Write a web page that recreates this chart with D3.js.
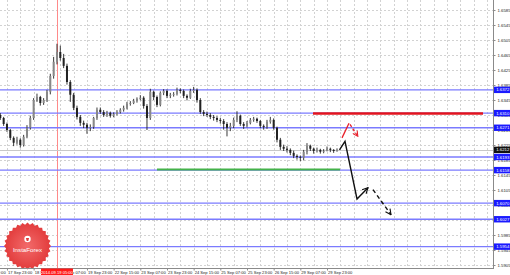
<!DOCTYPE html>
<html>
<head>
<meta charset="utf-8">
<script src="https://cdn.jsdelivr.net/npm/d3@7"></script>
<style>
  body { margin: 0; background: #fff; }
  svg { display: block; }
</style>
</head>
<body>
<svg id="chart" width="510" height="275"></svg>
<script>
// GBPUSD H2 bars, 17 Sep 2014 -> 30 Sep 2014 (hour index counted in trading hours from 17 Sep 07:00)
const firstBarHour = 12;
const barHours = 2;
const firstOpen = 1.6305;
const closes = [
  1.6297,1.6281,1.6265,1.6244,1.6231,1.6239,1.6225,1.6247,1.6271,1.6297,
  1.6345,1.6353,1.6337,1.6345,1.6367,1.6409,1.6447,1.6473,1.6457,1.6436,
  1.6393,1.6359,1.6324,1.6300,1.6284,1.6279,1.6271,1.6273,1.6297,1.6319,
  1.6313,1.6305,1.6311,1.6303,1.6308,1.6313,1.6319,1.6324,1.6335,1.6337,
  1.6343,1.6348,1.6351,1.6329,1.6297,1.6367,1.6353,1.6332,1.6364,1.6369,
  1.6356,1.6359,1.6361,1.6372,1.6369,1.6356,1.6351,1.6369,1.6372,1.6345,
  1.6313,1.6308,1.6305,1.6300,1.6297,1.6292,1.6289,1.6281,1.6271,1.6276,
  1.6292,1.6303,1.6281,1.6276,1.6284,1.6292,1.6295,1.6289,1.6276,1.6273,
  1.6287,1.6292,1.6271,1.6239,1.6220,1.6215,1.6212,1.6204,1.6196,1.6193,
  1.6191,1.6207,1.6223,1.6215,1.6209,1.6212,1.6207,1.6209,1.6215,1.6212,1.6209,1.6212
];
const highs = [
  1.6310,1.6300,1.6285,1.6268,1.6248,1.6247,1.6243,1.6252,1.6278,1.6303,
  1.6350,1.6362,1.6356,1.6350,1.6372,1.6415,1.6460,1.6495,1.6490,1.6468,
  1.6442,1.6398,1.6364,1.6330,1.6305,1.6290,1.6284,1.6280,1.6300,1.6325,
  1.6325,1.6318,1.6316,1.6314,1.6312,1.6318,1.6323,1.6330,1.6340,1.6342,
  1.6348,1.6352,1.6358,1.6355,1.6334,1.6375,1.6370,1.6357,1.6368,1.6374,
  1.6373,1.6364,1.6366,1.6378,1.6376,1.6373,1.6360,1.6375,1.6380,1.6376,
  1.6350,1.6318,1.6314,1.6310,1.6305,1.6302,1.6297,1.6294,1.6286,1.6284,
  1.6298,1.6315,1.6306,1.6286,1.6289,1.6297,1.6300,1.6298,1.6292,1.6280,
  1.6292,1.6300,1.6296,1.6274,1.6244,1.6226,1.6222,1.6216,1.6210,1.6200,
  1.6197,1.6212,1.6230,1.6226,1.6218,1.6218,1.6215,1.6214,1.6221,1.6218,1.6214,1.6216
];
const lows = [
  1.6292,1.6276,1.6260,1.6238,1.6222,1.6226,1.6218,1.6221,1.6243,1.6266,
  1.6292,1.6340,1.6330,1.6332,1.6340,1.6360,1.6402,1.6440,1.6450,1.6430,
  1.6386,1.6340,1.6318,1.6293,1.6276,1.6270,1.6255,1.6262,1.6268,1.6292,
  1.6308,1.6300,1.6300,1.6298,1.6299,1.6304,1.6309,1.6314,1.6320,1.6330,
  1.6334,1.6338,1.6344,1.6322,1.6265,1.6292,1.6345,1.6326,1.6328,1.6358,
  1.6350,1.6350,1.6354,1.6357,1.6363,1.6350,1.6344,1.6348,1.6364,1.6338,
  1.6308,1.6302,1.6300,1.6294,1.6290,1.6286,1.6282,1.6266,1.6248,1.6262,
  1.6270,1.6286,1.6276,1.6268,1.6272,1.6280,1.6287,1.6284,1.6270,1.6266,
  1.6268,1.6282,1.6266,1.6232,1.6212,1.6209,1.6205,1.6198,1.6190,1.6186,
  1.6182,1.6184,1.6200,1.6209,1.6202,1.6205,1.6202,1.6203,1.6208,1.6206,1.6204,1.6207
];

const priceTicks = [1.5905,1.5945,1.5985,1.6025,1.6065,1.6105,1.6145,1.6185,1.6225,
                    1.6265,1.6305,1.6345,1.6385,1.6425,1.6465,1.6505,1.6545,1.6585];
const dateLabels = ["17 Sep 07:00","17 Sep 23:00","18 Sep 15:00","19 Sep 07:00","19 Sep 23:00",
                    "22 Sep 15:00","23 Sep 07:00","23 Sep 23:00","24 Sep 15:00","25 Sep 07:00",
                    "25 Sep 23:00","26 Sep 15:00","29 Sep 07:00","29 Sep 23:00"];
const labelStepHours = 16;

// horizontal levels
const blueLevels = [1.6372, 1.6310, 1.6271, 1.6193, 1.6158, 1.6070, 1.6027, 1.5954];
const redLevel = {price: 1.6309, from: 199.6, to: 301.6};
const greenLevel = {price: 1.6160, from: 106, to: 215.8};
const markerHour = 46;
const markerLabel = "2014.09.19 05:00";

// forecast arrows [hour, price]
const redUp = [[217, 1.6244], [221.2, 1.6283]];
const redDown = [[221.8, 1.6280], [226.5, 1.6248]];
const blackMain = [[215.5, 1.6212], [218.8, 1.6235], [226, 1.6081], [232.6, 1.6111]];
const blackDashed = [[235.6, 1.6106], [246.4, 1.6039]];

const W = 510, H = 275;
const plotRight = 493, plotBottom = 268;

const x = d3.scaleLinear().domain([0, 208]).range([-19.7, 327]);
const y = d3.scaleLinear().domain([1.5905, 1.6585]).range([265, 10]);

const svg = d3.select("#chart");
svg.append("rect").attr("width", W).attr("height", H).attr("fill", "#fff");

const defs = svg.append("defs");
defs.append("clipPath").attr("id", "plot")
  .append("rect").attr("x", 0).attr("y", 0).attr("width", plotRight).attr("height", plotBottom);
function arrowMarker(id, color) {
  defs.append("marker").attr("id", id)
    .attr("viewBox", "0 0 10 10").attr("refX", 9).attr("refY", 5)
    .attr("markerWidth", 5).attr("markerHeight", 5).attr("orient", "auto")
    .append("path").attr("d", "M1,1 L9,5 L1,9")
    .attr("fill", "none").attr("stroke", color).attr("stroke-width", 1.6);
}
arrowMarker("arrBlack", "#111");
arrowMarker("arrRed", "#e8202a");

const plot = svg.append("g").attr("clip-path", "url(#plot)");

// grid
const gridHours = d3.range(0, 320, 8);
plot.append("g").selectAll("line").data(gridHours).enter().append("line")
  .attr("x1", d => Math.round(x(d)) + 0.5).attr("x2", d => Math.round(x(d)) + 0.5)
  .attr("y1", 0).attr("y2", plotBottom)
  .attr("stroke", "#d2d2d2").attr("stroke-dasharray", "2,2");
plot.append("g").selectAll("line").data(priceTicks).enter().append("line")
  .attr("x1", 0).attr("x2", plotRight)
  .attr("y1", d => Math.round(y(d)) + 0.5).attr("y2", d => Math.round(y(d)) + 0.5)
  .attr("stroke", "#d2d2d2").attr("stroke-dasharray", "2,2");

// marker line
plot.append("line")
  .attr("x1", Math.round(x(markerHour)) + 0.5).attr("x2", Math.round(x(markerHour)) + 0.5)
  .attr("y1", 0).attr("y2", plotBottom)
  .attr("stroke", "#ff8a8a").attr("stroke-width", 1);

// blue levels
plot.append("g").selectAll("line").data(blueLevels).enter().append("line")
  .attr("x1", 0).attr("x2", plotRight)
  .attr("y1", d => y(d)).attr("y2", d => y(d))
  .attr("stroke", "#7b7bff").attr("stroke-width", 1.3);

// bid line
const lastPrice = closes[closes.length - 1];
plot.append("line")
  .attr("x1", 0).attr("x2", plotRight)
  .attr("y1", Math.round(y(lastPrice)) + 0.5).attr("y2", Math.round(y(lastPrice)) + 0.5)
  .attr("stroke", "#c8c8c8");

// green & red levels
plot.append("line")
  .attr("x1", x(greenLevel.from)).attr("x2", x(greenLevel.to))
  .attr("y1", y(greenLevel.price)).attr("y2", y(greenLevel.price))
  .attr("stroke", "#45b24a").attr("stroke-width", 2);
plot.append("line")
  .attr("x1", x(redLevel.from)).attr("x2", x(redLevel.to))
  .attr("y1", y(redLevel.price)).attr("y2", y(redLevel.price))
  .attr("stroke", "#e3141e").attr("stroke-width", 2.5);

// candles
const bars = closes.map((c, i) => ({
  t: firstBarHour + i * barHours,
  o: i === 0 ? firstOpen : closes[i - 1],
  h: highs[i], l: lows[i], c: c
}));
const cg = plot.append("g");
cg.selectAll("line").data(bars).enter().append("line")
  .attr("x1", d => x(d.t)).attr("x2", d => x(d.t))
  .attr("y1", d => y(d.h)).attr("y2", d => y(d.l))
  .attr("stroke", "#222").attr("stroke-width", 0.9);
cg.selectAll("rect").data(bars).enter().append("rect")
  .attr("x", d => x(d.t) - 1)
  .attr("y", d => y(Math.max(d.o, d.c)))
  .attr("width", 2)
  .attr("height", d => Math.max(0.8, Math.abs(y(d.o) - y(d.c))))
  .attr("fill", d => d.c >= d.o ? "#888" : "#222");

// forecast arrows
const line = d3.line().x(d => x(d[0])).y(d => y(d[1]));
plot.append("path").datum(redUp).attr("d", line)
  .attr("fill", "none").attr("stroke", "#e8202a").attr("stroke-width", 1.3);
plot.append("path").datum(redDown).attr("d", line)
  .attr("fill", "none").attr("stroke", "#e8202a").attr("stroke-width", 1.3)
  .attr("stroke-dasharray", "3,2").attr("marker-end", "url(#arrRed)");
plot.append("path").datum(blackMain).attr("d", line)
  .attr("fill", "none").attr("stroke", "#111").attr("stroke-width", 1.4)
  .attr("marker-end", "url(#arrBlack)");
plot.append("path").datum(blackDashed).attr("d", line)
  .attr("fill", "none").attr("stroke", "#111").attr("stroke-width", 1.4)
  .attr("stroke-dasharray", "4,3").attr("marker-end", "url(#arrBlack)");

// InstaForex badge
const badge = svg.append("g").attr("transform", "translate(27.5,246)");
const grad = defs.append("radialGradient").attr("id", "badgeGrad");
grad.append("stop").attr("offset", "0%").attr("stop-color", "#f26a6a");
grad.append("stop").attr("offset", "100%").attr("stop-color", "#e23b3b");
const teeth = 28;
const pts = d3.range(teeth * 2).map(i => {
  const a = i * Math.PI / teeth;
  const r = i % 2 === 0 ? 23.5 : 21.5;
  return [r * Math.sin(a), -r * Math.cos(a)];
});
badge.append("polygon").attr("points", pts.map(p => p.join(",")).join(" "))
  .attr("fill", "url(#badgeGrad)");
badge.append("circle").attr("cy", -7).attr("r", 3.2).attr("fill", "#fff");
badge.append("path").attr("d", "M-1.6,-8 L1.6,-8 L0.8,-5 L-0.8,-5 Z").attr("fill", "#e23b3b");
badge.append("text").attr("y", 5.5).attr("text-anchor", "middle")
  .attr("font-family", "Liberation Sans, Arial, sans-serif").attr("font-size", 6.2)
  .attr("fill", "#fff").text("InstaForex");

// axes frame
svg.append("line").attr("x1", plotRight + 0.5).attr("x2", plotRight + 0.5)
  .attr("y1", 0).attr("y2", plotBottom).attr("stroke", "#8a8a8a");
svg.append("line").attr("x1", 0).attr("x2", plotRight + 1)
  .attr("y1", plotBottom + 0.5).attr("y2", plotBottom + 0.5).attr("stroke", "#8a8a8a");

// right axis
const yAxis = d3.axisRight(y).tickValues(priceTicks).tickFormat(d3.format(".4f")).tickSize(2).tickPadding(2);
const ya = svg.append("g").attr("transform", `translate(${plotRight + 0.5},0)`).call(yAxis);
ya.select(".domain").remove();
ya.selectAll("line").attr("stroke", "#8a8a8a");
ya.selectAll("text").attr("font-size", 4.3).attr("font-family", "Liberation Sans, Arial, sans-serif").attr("fill", "#222");

// level labels on axis
function axisTag(price, bg) {
  const g = svg.append("g").attr("transform", `translate(${plotRight + 1},${y(price)})`);
  g.append("rect").attr("x", 0).attr("y", -3.2).attr("width", 16).attr("height", 6.4).attr("fill", bg);
  g.append("text").attr("x", 2.2).attr("y", 1.6)
    .attr("font-size", 4.3).attr("font-family", "Liberation Sans, Arial, sans-serif")
    .attr("fill", "#fff").text(d3.format(".4f")(price));
}
blueLevels.forEach(p => axisTag(p, "#1a1aff"));
axisTag(lastPrice, "#111");

// bottom axis
const labelHours = dateLabels.map((d, i) => i * labelStepHours);
const xAxis = d3.axisBottom(x).tickValues(labelHours).tickFormat((d, i) => dateLabels[i]).tickSize(2).tickPadding(1);
const xa = svg.append("g").attr("transform", `translate(0,${plotBottom + 0.5})`).call(xAxis);
xa.select(".domain").remove();
xa.selectAll("line").attr("stroke", "#8a8a8a");
xa.selectAll("text").attr("text-anchor", "start").attr("dx", 0.5)
  .attr("font-size", 4.1).attr("font-family", "Liberation Sans, Arial, sans-serif").attr("fill", "#222");

// marker date tag
const mx = x(markerHour);
svg.append("rect").attr("x", mx - 16).attr("y", plotBottom + 0.5).attr("width", 32).attr("height", 6.5).attr("fill", "#ff1a1a");
svg.append("text").attr("x", mx).attr("y", plotBottom + 5.5).attr("text-anchor", "middle")
  .attr("font-size", 4.1).attr("font-family", "Liberation Sans, Arial, sans-serif")
  .attr("fill", "#fff").text(markerLabel);
</script>
</body>
</html>
